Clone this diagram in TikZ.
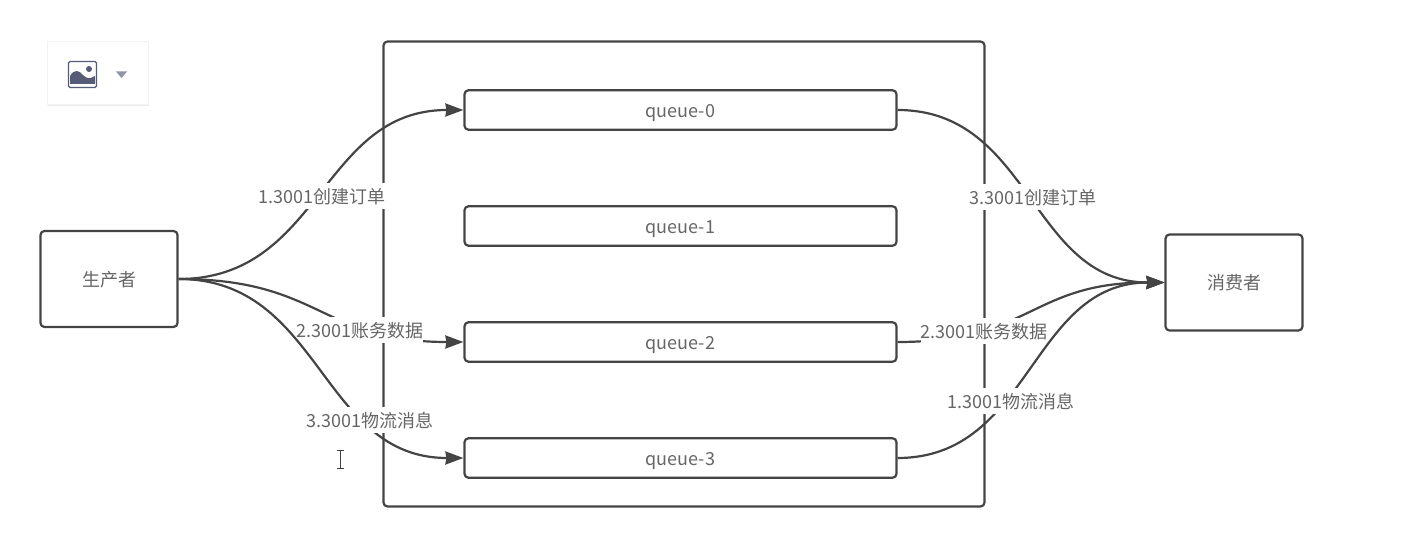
\documentclass[tikz,border=0pt]{standalone}
\usepackage{fontspec}
\setmainfont{Noto Sans CJK SC}
\usetikzlibrary{arrows.meta,positioning,shadows}
\definecolor{LineGrey}{HTML}{444444}
\definecolor{TextGrey}{HTML}{666666}
\definecolor{IconSlate}{HTML}{565C75}

\begin{document}
\begin{tikzpicture}[x=1pt,y=-1pt,font=\fontsize{18pt}{20pt}\selectfont,text=TextGrey,
  box/.style={draw=LineGrey,line width=2.2pt,rounded corners=4pt,fill=white,align=center,text height=18pt,text depth=3pt},
  actor/.style={box,minimum width=137pt,minimum height=96pt},
  queuebox/.style={box,minimum width=432pt,minimum height=39.5pt},
  msg/.style={fill=white,inner sep=0pt,minimum height=26pt,text=TextGrey,text height=18pt,text depth=3pt},
  flow/.style={draw=LineGrey,line width=2.2pt,-{Stealth[length=18pt,width=13pt,inset=1pt]}}]
  \useasboundingbox (0,0) rectangle (1418,534);
  \node[box,minimum width=601pt,minimum height=465pt] (broker) at (684,274) {};
  \node[queuebox] (q0) at (680.5,110) {queue-0};
  \node[queuebox,below=74.3pt of q0] (q1) {queue-1};
  \node[queuebox,below=74.3pt of q1] (q2) {queue-2};
  \node[queuebox,below=74.3pt of q2] (q3) {queue-3};
  \node[actor] (prod) at (109,279) {生产者};
  \node[actor] (cons) at (1234,282.5) {消费者};
  % producer side
  \foreach \q/\txt/\p/\dx/\dy in {q0/1.3001创建订单/.5/1/-2,q2/2.3001账务数据/.7/-6/-2,q3/3.3001物流消息/.71/2/2}{
    \draw[flow] (prod.east) .. controls +(143,0) and +(-143,0) .. node[msg,pos=\p,xshift=\dx pt,yshift=\dy pt] {\txt} (\q.west);
  }
  % consumer side
  \foreach \q/\txt/\p/\dx/\dy in {q0/3.3001创建订单/.5/2/-1,q2/2.3001账务数据/.28/0/0,q3/1.3001物流消息/.39/2/-2}{
    \draw[flow] (\q.east) .. controls +(134,0) and +(-134,0) .. node[msg,pos=\p,xshift=\dx pt,yshift=\dy pt] {\txt} (cons.west);
  }
  % toolbar card
  \node[draw=black!5,line width=1pt,fill=white,minimum width=101pt,minimum height=63pt,
    drop shadow={opacity=.15,shadow xshift=1pt,shadow yshift=-1pt}] (card) at (97.5,73.5) {};
  \node[draw=IconSlate,line width=1.4pt,rounded corners=1.5pt,minimum width=28pt,minimum height=26pt,inner sep=0pt] (icon) at (82.5,74.5) {};
  \fill[IconSlate] (70,84) -- (70,76) .. controls (74,69) and (79,70) .. (83,75) .. controls (87,79) and (90,79) .. (95,76) -- (95,84) -- cycle;
  \fill[IconSlate] (89,69) circle (3pt);
  \fill[IconSlate!65] (116,71.5) -- (127,71.5) -- (121.5,78) -- cycle;
  % text cursor
  \draw[black!75,line width=.8pt] (337,450) -- (344,450) (340.5,450) -- (340.5,468) (337,468) -- (344,468);
\end{tikzpicture}
\end{document}
